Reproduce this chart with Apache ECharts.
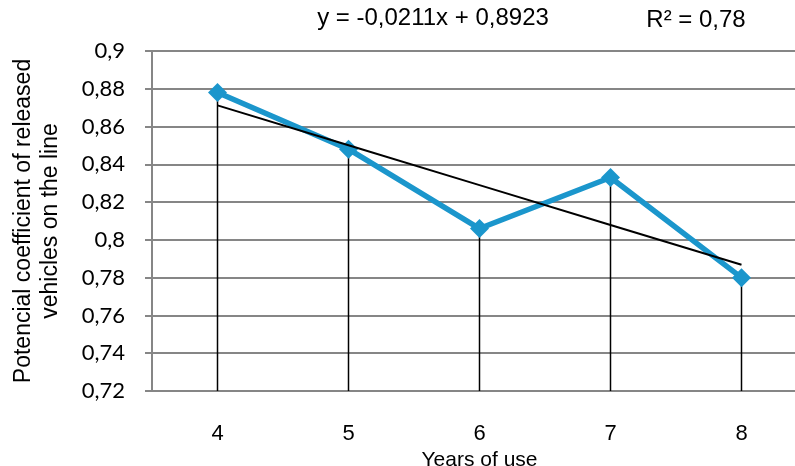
<!DOCTYPE html>
<html><head><meta charset="utf-8">
<script src="https://cdn.jsdelivr.net/npm/echarts@6/dist/echarts.min.js"></script>
<style>html,body{margin:0;padding:0;background:#fff}#c{width:795px;height:466px}</style>
</head><body><div id="c"></div>
<script>
var categories = ['4','5','6','7','8'];
var coefValues = [0.878, 0.848, 0.806, 0.833, 0.780];
var trendValues = [0.8712, 0.8501, 0.8290, 0.8079, 0.7868];
var yTicks = ['0,72','0,74','0,76','0,78','0,8','0,82','0,84','0,86','0,88','0,9'];
var equationText = 'y = -0,0211x + 0,8923';
var r2Text = 'R² = 0,78';

var chart = echarts.init(document.getElementById('c'));
var yMin = 0.72, yMax = 0.9;
chart.setOption({
  animation: false,
  backgroundColor: '#fff',
  grid: {left: 152, top: 51, bottom: 75, right: -12, containLabel: false, outerBoundsMode: 'none'},
  graphic: [
    {type:'text', x: 433, y: 18, style:{text: equationText, font:'24px "Liberation Sans", Arial', fill:'#000', textAlign:'center', textVerticalAlign:'middle'}},
    {type:'text', x: 696, y: 20, style:{text: r2Text, font:'24px "Liberation Sans", Arial', fill:'#000', textAlign:'center', textVerticalAlign:'middle'}}
  ],
  xAxis: {
    type: 'category', data: categories, boundaryGap: true,
    axisLine: {show: false}, axisTick: {show: false},
    axisLabel: {margin: 32, fontSize: 22, color: '#000', fontFamily: '"Liberation Sans", Arial'},
    name: 'Years of use', nameLocation: 'middle', nameGap: 49,
    nameTextStyle: {fontSize: 21, color: '#000', fontFamily: '"Liberation Sans", Arial'}
  },
  yAxis: {
    type: 'value', min: yMin, max: yMax, interval: 0.02,
    axisLine: {show: true, lineStyle: {color: '#868686', width: 2}},
    axisTick: {show: true, length: 7, lineStyle: {color: '#868686', width: 2}},
    splitLine: {show: true, lineStyle: {color: '#868686', width: 2}},
    axisLabel: {margin: 27, fontSize: 22, color: '#000', fontFamily: 'Lato, "Open Sans", sans-serif',
      formatter: function(v){ var i = Math.round((v - yMin)/0.02); return yTicks[i] || ''; }},
    name: 'Potencial coefficient of released\nvehicles on the line', nameLocation: 'middle', nameGap: 88, nameRotate: 90,
    nameTextStyle: {fontSize: 23, color: '#000', fontFamily: '"Liberation Sans", Arial', lineHeight: 27}
  },
  series: [
    {
      type: 'custom', z: 1, silent: true,
      data: coefValues.map(function(v,i){return [i, v];}),
      renderItem: function(params, api){
        var top = api.coord([api.value(0), api.value(1)]);
        var bot = api.coord([api.value(0), yMin]);
        return {type:'line', shape:{x1: top[0], y1: top[1], x2: bot[0], y2: bot[1]}, style:{stroke:'#000', lineWidth: 1.5}};
      }
    },
    {
      type: 'line', z: 3, data: coefValues, symbol: 'diamond', symbolSize: 19,
      lineStyle: {color: '#1b96cc', width: 5.5}, itemStyle: {color: '#1b96cc'}
    },
    {
      type: 'line', z: 4, data: trendValues, showSymbol: false, symbol: 'none',
      lineStyle: {color: '#000', width: 2}
    }
  ]
});
</script></body></html>
